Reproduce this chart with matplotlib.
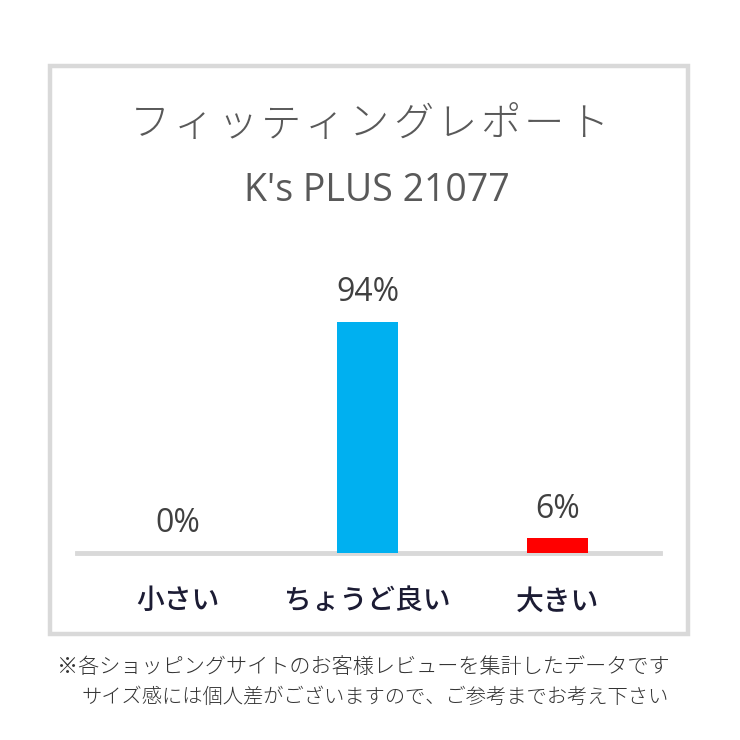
"""
Fitting report bar chart (K's PLUS 21077) — share of reviews by size feel.
"""

import matplotlib

matplotlib.use("Agg")
import matplotlib.pyplot as plt
from matplotlib.patches import Rectangle

plt.rcParams["font.family"] = ["Noto Sans CJK JP", "DejaVu Sans"]

# Data.
categories = ["小さい", "ちょうど良い", "大きい"]
shares = [0, 94, 6]
bar_colors = ["#00b0f0", "#00b0f0", "#ff0000"]

title = "フィッティングレポート"
subtitle = "K's PLUS 21077"
footnotes = [
    "※各ショッピングサイトのお客様レビューを集計したデータです",
    "サイズ感には個人差がございますので、ご参考までお考え下さい",
]

W, H = 740, 740


def fx(px):
    return px / W


def fy(py):
    return 1 - py / H


fig = plt.figure(figsize=(7.4, 7.4), dpi=100)
fig.patch.set_facecolor("white")

# Light grey frame round the chart card.
fig.patches.append(
    Rectangle((fx(50), fy(634)), fx(688) - fx(50), fy(66) - fy(634),
              transform=fig.transFigure, fill=False,
              edgecolor="#d9d9d9", linewidth=3.2)
)

# Plot area: baseline at y=553 px, 100% at y=307 px.
ax = fig.add_axes([fx(77), fy(553), fx(660) - fx(77), fy(307) - fy(553)])
x = list(range(len(categories)))
bars = ax.bar(x, shares, width=0.32, color=bar_colors, zorder=3)
ax.set_xlim(-0.53, 2.54)
ax.set_ylim(0, 100)

for rect, val in zip(bars, shares):
    ax.annotate(f"{val}%", (rect.get_x() + rect.get_width() / 2, val),
                xytext=(0, 9), textcoords="offset points",
                ha="center", va="bottom", fontsize=23,
                color="#404040", family=["Open Sans", "DejaVu Sans"])

for side in ("top", "left", "right"):
    ax.spines[side].set_visible(False)
ax.spines["bottom"].set_color("#d9d9d9")
ax.spines["bottom"].set_linewidth(3.5)
ax.set_yticks([])
ax.set_xticks(x)
ax.set_xticklabels(categories, fontsize=20, color="#1c1c34", fontweight="medium")
ax.tick_params(axis="x", length=0, pad=24)

# Title, spaced out character by character.
title_left, title_right = 150, 588
step = (title_right - title_left) / (len(title) - 1)
for i, ch in enumerate(title):
    fig.text(fx(title_left + i * step), fy(125), ch, ha="center", va="center",
             fontsize=29, color="#595959", fontweight="light")

fig.text(fx(377), fy(191), subtitle, ha="center", va="center", fontsize=27,
         color="#595959", family=["Open Sans", "DejaVu Sans"])

fig.text(fx(57), fy(667), footnotes[0], ha="left", va="center",
         fontsize=15.2, color="#333333", fontweight="light")
fig.text(fx(82), fy(697), footnotes[1], ha="left", va="center",
         fontsize=14.6, color="#333333", fontweight="light")

fig.savefig("out.png", dpi=100, facecolor="white")
